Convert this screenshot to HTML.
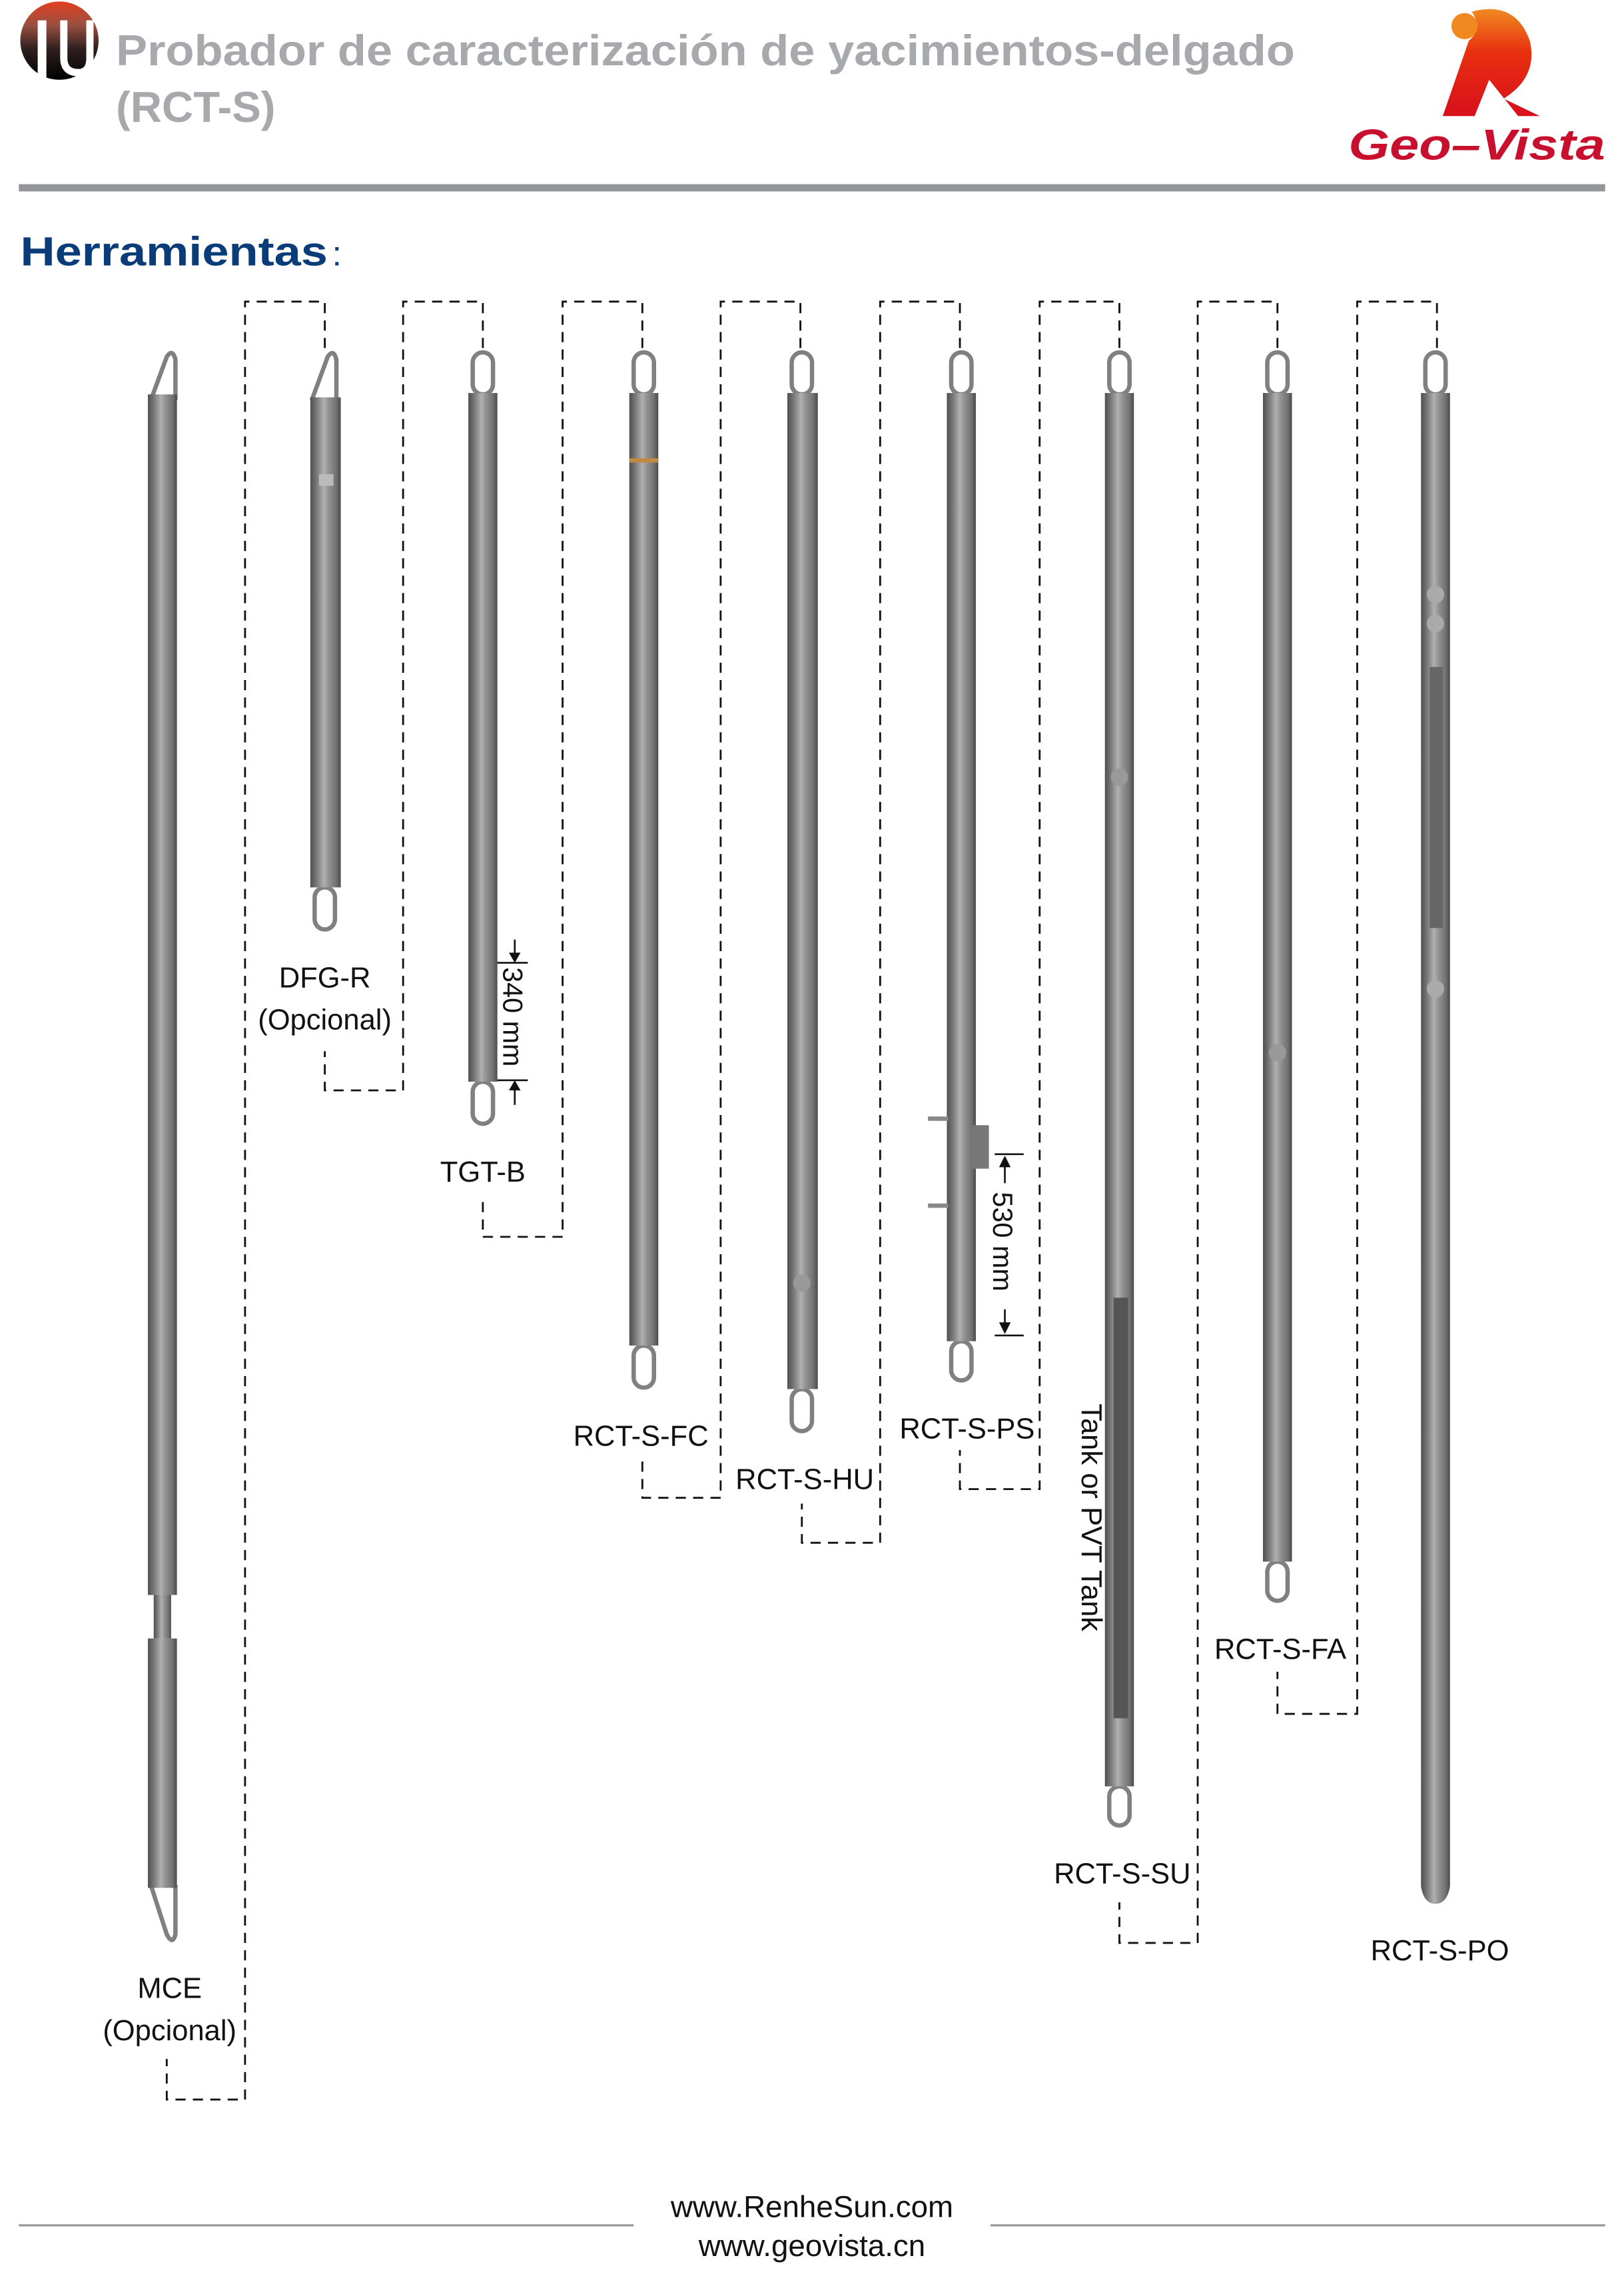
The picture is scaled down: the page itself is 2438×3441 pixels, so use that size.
<!DOCTYPE html>
<html><head><meta charset="utf-8"><style>
html,body{margin:0;padding:0;background:#fff}
svg{display:block}
text{font-family:"Liberation Sans",Arial,sans-serif}
</style></head><body>
<svg width="2438" height="3441" viewBox="0 0 1120 1580.7" xmlns="http://www.w3.org/2000/svg">
<defs>
<linearGradient id="g" x1="0" x2="1" y1="0" y2="0">
<stop offset="0" stop-color="#4f4f4f"/><stop offset="0.2" stop-color="#777"/><stop offset="0.45" stop-color="#b0b0b0"/><stop offset="0.6" stop-color="#939393"/><stop offset="0.85" stop-color="#727272"/><stop offset="1" stop-color="#4a4a4a"/>
</linearGradient>
<linearGradient id="lg" x1="0" x2="0" y1="0" y2="1">
<stop offset="0" stop-color="#e04020"/><stop offset="0.3" stop-color="#9a5040"/><stop offset="0.6" stop-color="#302020"/><stop offset="1" stop-color="#000"/>
</linearGradient>
<linearGradient id="rg" x1="0" x2="0" y1="0" y2="1">
<stop offset="0" stop-color="#f08a20"/><stop offset="0.4" stop-color="#e83010"/><stop offset="1" stop-color="#d8101c"/>
</linearGradient>
</defs>

<ellipse cx="41" cy="28" rx="27" ry="27" fill="url(#lg)"/>
<rect x="26" y="14" width="6" height="42" fill="#fff"/>
<path d="M44 14 v26 q0 10 10 10 q8 0 8-10 v-26" fill="none" stroke="#fff" stroke-width="5"/>
<text x="80" y="45" font-size="30" font-weight="bold" fill="#a7a9ac" textLength="813" lengthAdjust="spacingAndGlyphs">Probador de caracterización de yacimientos-delgado</text>
<text x="80" y="84" font-size="30" font-weight="bold" fill="#a7a9ac">(RCT-S)</text>
<path d="M1015 8 q30 -8 40 20 q6 25 -18 40 l25 12 l-15 0 l-20 -25 l-10 25 l-22 0 l18 -52 q10 -8 2 -20 z" fill="url(#rg)"/>
<circle cx="1010" cy="18" r="9" fill="#f08a20"/>
<text x="930" y="110" font-size="30" font-weight="bold" font-style="italic" fill="#c8102e" textLength="177" lengthAdjust="spacingAndGlyphs">Geo–Vista</text>
<rect x="13" y="127" width="1094" height="5" fill="#939598"/>
<text x="14" y="183" font-size="28" font-weight="bold" fill="#0b3c7a" textLength="212" lengthAdjust="spacingAndGlyphs">Herramientas</text>
<text x="229" y="183" font-size="24" fill="#0b3c7a">:</text>

<g fill="none" stroke="#111" stroke-width="1.3" stroke-dasharray="7,5">
<path d="M224 240 V208 H169 V1448 H115 V1420"/>
<path d="M333 240 V208 H278 V752 H224 V725"/>
<path d="M443 240 V208 H388 V853 H333 V825"/>
<path d="M552 240 V208 H497 V1033 H443 V1005"/>
<path d="M662 240 V208 H607 V1064 H553 V1037"/>
<path d="M772 240 V208 H717 V1027 H662 V1000"/>
<path d="M881 240 V208 H826 V1340 H772 V1312"/>
<path d="M991 240 V208 H936 V1182 H881 V1153"/>
</g>

<g stroke="#808080" stroke-width="3" fill="none">
<path d="M104 276 L115 246 Q119 240 121 248 L121 276"/>
<path d="M104 1300 L115 1334 Q119 1342 121 1334 L121 1300"/>
<path d="M215 276 L226 246 Q230 240 232 248 L232 276"/>
<rect x="217" y="612" width="14" height="29" rx="7"/>
<rect x="326" y="243" width="14" height="29" rx="7"/>
<rect x="326" y="746" width="14" height="29" rx="7"/>
<rect x="437" y="243" width="14" height="29" rx="7"/>
<rect x="437" y="928" width="14" height="29" rx="7"/>
<rect x="546" y="243" width="14" height="29" rx="7"/>
<rect x="546" y="958" width="14" height="29" rx="7"/>
<rect x="656" y="243" width="14" height="29" rx="7"/>
<rect x="656" y="925" width="14" height="27" rx="7"/>
<rect x="765" y="243" width="14" height="29" rx="7"/>
<rect x="765" y="1232" width="14" height="27" rx="7"/>
<rect x="874" y="243" width="14" height="29" rx="7"/>
<rect x="874" y="1077" width="14" height="27" rx="7"/>
<rect x="983" y="243" width="14" height="29" rx="7"/>
</g>
<g fill="url(#g)">
<rect x="102" y="272" width="20" height="828"/>
<rect x="106" y="1100" width="12" height="30"/>
<rect x="102" y="1130" width="20" height="172"/>
<rect x="214" y="274" width="21" height="338"/>
<rect x="323" y="271" width="20" height="475"/>
<rect x="434" y="271" width="20" height="657"/>
<rect x="543" y="271" width="21" height="687"/>
<rect x="653" y="271" width="20" height="654"/>
<rect x="762" y="271" width="20" height="961"/>
<rect x="871" y="271" width="20" height="806"/>
<path d="M980 271 h20 v1030 q-2 12 -10 12 q-8 0 -10 -12 z"/>
</g>
<rect x="434" y="316" width="20" height="3" fill="#c08840"/>
<rect x="220" y="327" width="10" height="8" fill="#bbb"/>
<rect x="640" y="770" width="14" height="3" fill="#888"/>
<rect x="640" y="830" width="14" height="3" fill="#888"/>
<rect x="670" y="776" width="12" height="30" fill="#777"/>
<circle cx="553" cy="885" r="6" fill="#999"/>
<circle cx="772" cy="536" r="6" fill="#999"/>
<circle cx="881" cy="726" r="6" fill="#999"/>
<circle cx="990" cy="410" r="6" fill="#aaa"/><circle cx="990" cy="430" r="6" fill="#aaa"/><circle cx="990" cy="682" r="6" fill="#aaa"/>
<rect x="768" y="895" width="10" height="290" fill="#555"/>
<rect x="986" y="460" width="9" height="180" fill="#666"/>

<g font-size="20" fill="#111" text-anchor="middle">
<text x="117" y="1378">MCE</text><text x="117" y="1407">(Opcional)</text>
<text x="224" y="681">DFG-R</text><text x="224" y="710">(Opcional)</text>
<text x="333" y="815">TGT-B</text>
<text x="442" y="997">RCT-S-FC</text>
<text x="555" y="1027">RCT-S-HU</text>
<text x="667" y="992">RCT-S-PS</text>
<text x="774" y="1299">RCT-S-SU</text>
<text x="883" y="1144">RCT-S-FA</text>
<text x="993" y="1352">RCT-S-PO</text>
</g>
<text transform="translate(746,968) rotate(90)" font-size="20" fill="#111">Tank or PVT Tank</text>
<g stroke="#111" stroke-width="1.2">
<line x1="343" y1="664" x2="364" y2="664"/><line x1="343" y1="745" x2="364" y2="745"/>
<line x1="355" y1="648" x2="355" y2="660"/><line x1="355" y1="750" x2="355" y2="762"/>
<line x1="686" y1="796" x2="706" y2="796"/><line x1="686" y1="921" x2="706" y2="921"/>
<line x1="693" y1="800" x2="693" y2="816"/><line x1="693" y1="903" x2="693" y2="917"/>
</g>
<path d="M351 657 L359 657 L355 664 Z M351 752 L359 752 L355 745 Z" fill="#111"/>
<path d="M689 805 L697 805 L693 797 Z M689 912 L697 912 L693 920 Z" fill="#111"/>
<text transform="translate(347,667) rotate(90)" font-size="19" fill="#111">340 mm</text>
<text transform="translate(685,822) rotate(90)" font-size="19" fill="#111">530 mm</text>

<rect x="13" y="1534" width="424" height="1.5" fill="#999"/>
<rect x="683" y="1534" width="424" height="1.5" fill="#999"/>
<text x="560" y="1529" font-size="21" fill="#111" text-anchor="middle">www.RenheSun.com</text>
<text x="560" y="1556" font-size="21" fill="#111" text-anchor="middle">www.geovista.cn</text>
</svg>
</body></html>
